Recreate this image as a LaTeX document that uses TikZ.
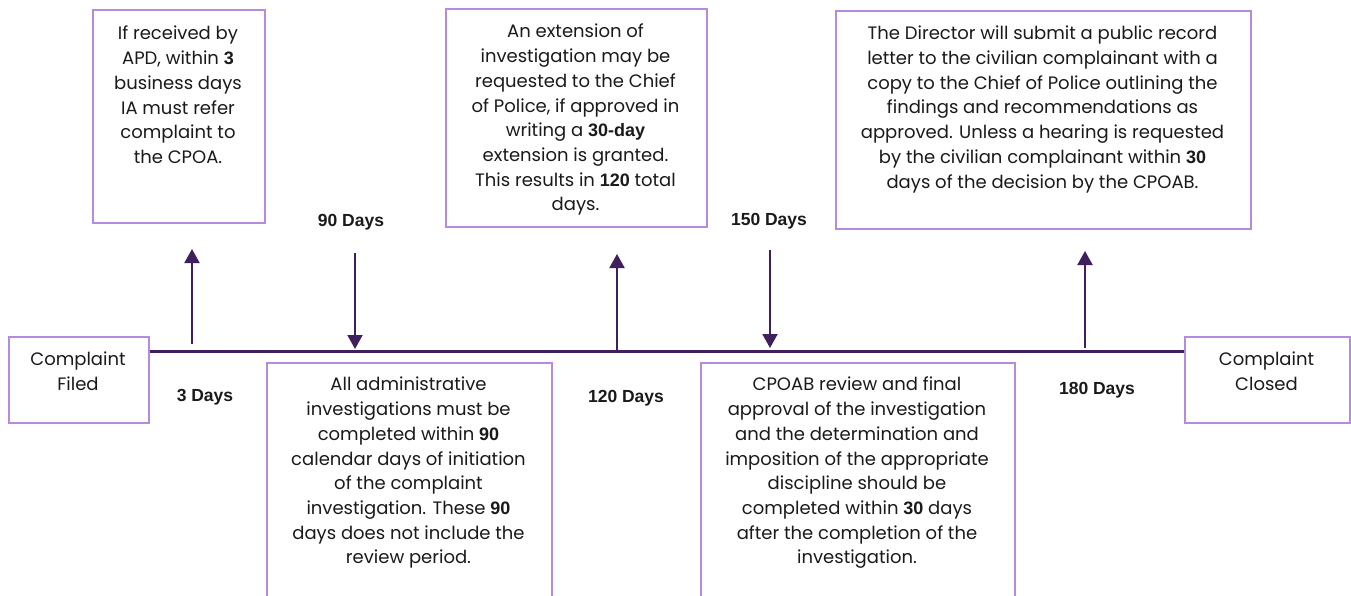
\documentclass[tikz,border=0pt]{standalone}
\usepackage{fontspec}
\setmainfont{Poppins}
\newfontfamily\numfont{Liberation Sans}
\usetikzlibrary{arrows.meta}
\definecolor{boxc}{HTML}{B58BE0}
\definecolor{linec}{HTML}{3F1F5E}
\definecolor{txtc}{HTML}{1A1A1A}
\newcommand{\bn}[1]{{\numfont\bfseries #1}}
\tikzset{
  box/.style={draw=boxc, line width=2pt, fill=white, inner sep=0pt, anchor=north west},
  txt/.style={align=center, inner sep=0pt, anchor=north, text=txtc,
    font=\fontsize{18}{24.7}\selectfont},
  lbl/.style={inner sep=0pt, text=txtc, font=\fontsize{17.5}{20}\selectfont\numfont\bfseries},
  conn/.style={draw=linec, line width=2pt},
  tip/.style={conn, -{Triangle[width=15pt,length=14pt]}},
}
\begin{document}
\begin{tikzpicture}[x=1pt,y=-1pt]
\useasboundingbox (0,0) rectangle (1351,596);
\clip (0,0) rectangle (1351,596);
% end boxes
\node[box, minimum width=140pt, minimum height=86pt] (cf) at (8,336) {};
\node[txt] (cft) at (78,352) {Complaint\\Filed};
\node[box, minimum width=165pt, minimum height=86pt] (cc) at (1184,336) {};
\node[txt] (cct) at (1266.5,352) {Complaint\\Closed};
% timeline
\coordinate (tl) at (0,351);
\draw[draw=linec, line width=3pt] (cf.east |- tl) -- (cc.west |- tl);
% top boxes
\node[box, minimum width=172pt, minimum height=213pt] (b1) at (92,9) {};
\node[txt] (b1t) at (178,26) {If received by\\APD, within \bn{3}\\business days\\IA must refer\\complaint to\\the CPOA.};
\node[box, minimum width=261pt, minimum height=218pt] (b2) at (445,8) {};
\node[txt] (b2t) at (575.5,24) {An extension of\\investigation may be\\requested to the Chief\\of Police, if approved in\\writing a \bn{30-day}\\extension is granted.\\This results in \bn{120} total\\days.};
\node[box, minimum width=415pt, minimum height=218pt] (b3) at (835,10) {};
\node[txt] (b3t) at (1042.5,26) {The Director will submit a public record\\letter to the civilian complainant with a\\copy to the Chief of Police outlining the\\findings and recommendations as\\approved. Unless a hearing is requested\\by the civilian complainant within \bn{30}\\days of the decision by the CPOAB.};
% bottom boxes
\node[box, minimum width=285pt, minimum height=250pt] (b4) at (266,362) {};
\node[txt] (b4t) at (408.5,377) {All administrative\\investigations must be\\completed within \bn{90}\\calendar days of initiation\\of the complaint\\investigation. These \bn{90}\\days does not include the\\review period.};
\node[box, minimum width=314pt, minimum height=250pt] (b5) at (700,362) {};
\node[txt] (b5t) at (857,377) {CPOAB review and final\\approval of the investigation\\and the determination and\\imposition of the appropriate\\discipline should be\\completed within \bn{30} days\\after the completion of the\\investigation.};
% day labels
\node[lbl] (d3) at (205,397) {3 Days};
\node[lbl] (d90) at (351,222) {90 Days};
\node[lbl] (d120) at (626,398) {120 Days};
\node[lbl] (d150) at (769,221) {150 Days};
\node[lbl] (d180) at (1097,390) {180 Days};
% arrows
\coordinate (a1s) at (192,344); \coordinate (a1e) at (192,249);
\coordinate (a2s) at (355,253); \coordinate (a2e) at (355,349);
\coordinate (a3s) at (617,351); \coordinate (a3e) at (617,254);
\coordinate (a4s) at (770,250); \coordinate (a4e) at (770,348);
\coordinate (a5s) at (1085,348); \coordinate (a5e) at (1085,251);
\draw[tip] (a1s) -- (a1e);
\draw[tip] (a2s) -- (a2e);
\draw[tip] (a3s) -- (a3e);
\draw[tip] (a4s) -- (a4e);
\draw[tip] (a5s) -- (a5e);
\end{tikzpicture}
\end{document}
